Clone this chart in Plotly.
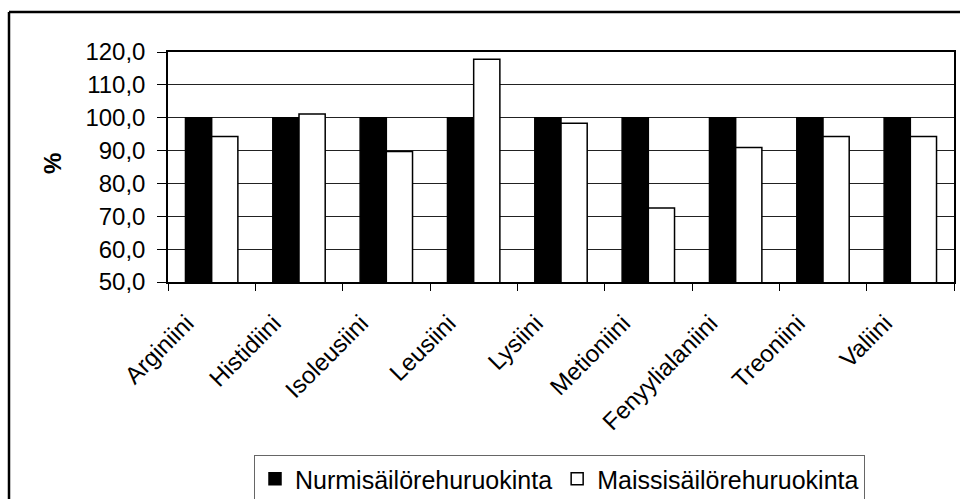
import plotly.graph_objects as go

categories = ["Arginiini", "Histidiini", "Isoleusiini", "Leusiini", "Lysiini",
              "Metioniini", "Fenyylialaniini", "Treoniini", "Valiini"]
nurmi = [100.0, 100.0, 100.0, 100.0, 100.0, 100.0, 100.0, 100.0, 100.0]
maissi = [94.3, 101.1, 89.7, 117.8, 98.3, 72.5, 90.9, 94.3, 94.3]
series_names = ["Nurmisäilörehuruokinta", "Maissisäilörehuruokinta"]
y_ticks = [50, 60, 70, 80, 90, 100, 110, 120]
y_title = "%"

FONT = "Liberation Sans, Arial, sans-serif"
FS = 24
W, H = 960, 499
L, R, T, B = 168, 6, 52, 217
pw, ph = W - L - R, H - T - B

def px_x(px):
    return (px - L) / pw

def px_y(py):
    return (H - B - py) / ph

fig = go.Figure()
fig.add_trace(go.Bar(x=categories, y=nurmi, name=series_names[0],
                     marker=dict(color="black", line=dict(color="black", width=1.5))))
fig.add_trace(go.Bar(x=categories, y=maissi, name=series_names[1],
                     marker=dict(color="white", line=dict(color="black", width=1.5))))

fig.update_layout(
    width=W, height=H,
    margin=dict(l=L, r=R, t=T, b=B, autoexpand=False),
    paper_bgcolor="white", plot_bgcolor="white",
    font=dict(family=FONT, size=FS, color="black"),
    separators=", ",
    barmode="group", bargap=0.4, bargroupgap=0.0,
    showlegend=True,
    legend=dict(orientation="h", x=px_x(254), y=px_y(455), xanchor="left", yanchor="top",
                bordercolor="#666666", borderwidth=1, bgcolor="white",
                font=dict(family=FONT, size=FS + 1), itemwidth=30, tracegroupgap=0),
    xaxis=dict(showline=True, linecolor="black", linewidth=1.5, mirror=True,
               ticks="outside", ticklen=7, tickcolor="black", tickson="boundaries",
               tickangle=-45, showgrid=False, tickfont=dict(family=FONT, size=FS),
               ticklabelshift=-25, ticklabelstandoff=16),
    yaxis=dict(range=[50, 120], tickvals=y_ticks, tickformat=".1f",
               showline=True, linecolor="black", linewidth=1.5, mirror=True,
               ticks="outside", ticklen=9, tickcolor="black", ticklabelstandoff=7,
               showgrid=True, gridcolor="#222222", gridwidth=1,
               tickfont=dict(family=FONT, size=FS)),
    annotations=[
        dict(text="<b>" + y_title + "</b>", xref="paper", yref="paper",
             x=px_x(52), y=px_y(164), xanchor="center", yanchor="middle",
             textangle=-90, showarrow=False, font=dict(family=FONT, size=FS)),
    ],
    shapes=[
        dict(type="line", xref="paper", yref="paper", x0=px_x(9), x1=px_x(975),
             y0=px_y(12), y1=px_y(12), line=dict(color="black", width=2.5)),
        dict(type="line", xref="paper", yref="paper", x0=px_x(9), x1=px_x(9),
             y0=px_y(12), y1=px_y(520), line=dict(color="black", width=2.5)),
    ],
)

fig.write_html("out.html")
